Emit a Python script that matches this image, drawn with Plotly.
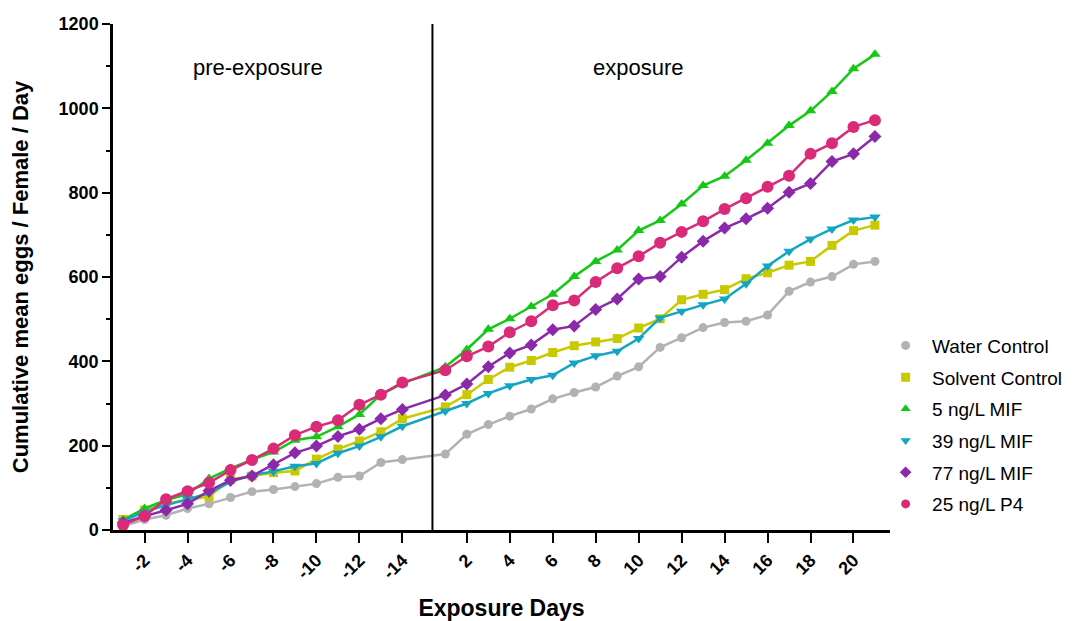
import plotly.graph_objects as go

# Day labels: pre-exposure days -1..-14, exposure days 1..21
pre_days = [-1, -2, -3, -4, -5, -6, -7, -8, -9, -10, -11, -12, -13, -14]
exp_days = list(range(1, 22))

water_pre = [9, 25, 35, 51, 62, 77, 91, 96, 103, 110, 125, 128, 160, 167]
water_exp = [180, 227, 250, 270, 287, 311, 326, 339, 365, 387, 433, 456, 480, 492, 495, 510, 566, 588, 601, 630, 637]
solvent_pre = [25, 47, 63, 71, 79, 120, 128, 136, 140, 168, 192, 211, 233, 264]
solvent_exp = [292, 321, 357, 386, 402, 421, 437, 446, 454, 479, 501, 546, 559, 570, 596, 610, 628, 637, 675, 710, 723]
mif5_pre = [24, 51, 71, 85, 122, 146, 167, 185, 213, 221, 245, 274, 321, 347]
mif5_exp = [387, 428, 476, 501, 530, 559, 601, 637, 664, 710, 734, 773, 817, 839, 877, 917, 959, 994, 1040, 1094, 1128]
mif39_pre = [22, 43, 59, 73, 87, 114, 130, 139, 151, 158, 182, 199, 221, 246]
mif39_exp = [282, 300, 324, 342, 357, 367, 396, 413, 424, 454, 503, 519, 534, 548, 584, 626, 661, 690, 714, 735, 742]
mif77_pre = [17, 33, 47, 62, 93, 118, 128, 155, 183, 199, 222, 239, 264, 286]
mif77_exp = [320, 346, 387, 420, 439, 475, 484, 523, 548, 595, 601, 647, 685, 716, 738, 763, 801, 822, 874, 892, 933]
p4_pre = [12, 33, 73, 92, 112, 142, 166, 193, 225, 245, 260, 297, 321, 350]
p4_exp = [379, 412, 435, 469, 495, 533, 544, 588, 621, 649, 681, 707, 732, 761, 787, 814, 840, 892, 917, 956, 972]

series_names = ["Water Control", "Solvent Control", "5 ng/L MIF", "39 ng/L MIF", "77 ng/L MIF", "25 ng/L P4"]
series_pre = [water_pre, solvent_pre, mif5_pre, mif39_pre, mif77_pre, p4_pre]
series_exp = [water_exp, solvent_exp, mif5_exp, mif39_exp, mif77_exp, p4_exp]
colors = ["#b2b2b5", "#c9c900", "#14c814", "#12a6c4", "#8a2aaa", "#d92b78"]
symbols = ["circle", "square", "triangle-up", "triangle-down", "diamond", "circle"]
sizes = [9, 9, 10, 10, 10, 12]

pre_tick_labels = ["-2", "-4", "-6", "-8", "-10", "-12", "-14"]
exp_tick_labels = ["2", "4", "6", "8", "10", "12", "14", "16", "18", "20"]


# Axis position: pre day -k at position k-1; exposure day k at position 14+k
def pos_pre(d):
    return -d - 1


def pos_exp(d):
    return 14 + d


x_all = [pos_pre(d) for d in pre_days] + [pos_exp(d) for d in exp_days]
tickvals = [pos_pre(int(t)) for t in pre_tick_labels] + [pos_exp(int(t)) for t in exp_tick_labels]
ticktext = pre_tick_labels + exp_tick_labels

FONT = "Arial, Liberation Sans, sans-serif"

fig = go.Figure()
for name, pre, exp, c, s, sz in zip(series_names, series_pre, series_exp, colors, symbols, sizes):
    fig.add_trace(go.Scatter(
        x=x_all, y=pre + exp, mode="lines+markers", name=name, showlegend=False,
        line=dict(color=c, width=2.5),
        marker=dict(color=c, symbol=s, size=sz),
    ))
# legend entries (markers only), each in its own group so the group gap spaces the rows
for name, c, s in zip(series_names, colors, symbols):
    fig.add_trace(go.Scatter(
        x=[None], y=[None], mode="markers", name=name, legendgroup=name,
        marker=dict(color=c, symbol=s, size=9),
    ))

fig.add_shape(type="line", xref="x", yref="y", x0=14.4, x1=14.4, y0=0, y1=1200,
              line=dict(color="black", width=2))

fig.add_annotation(x=6.3, y=1097, xref="x", yref="y", text="pre-exposure", showarrow=False,
                   font=dict(family=FONT, size=22, color="black"))
fig.add_annotation(x=24.0, y=1097, xref="x", yref="y", text="exposure", showarrow=False,
                   font=dict(family=FONT, size=22, color="black"))

# The page body adds an 8px offset; the figure is sized/margined to compensate
# (the figure may extend past the window edge where nothing is drawn).
fig.update_layout(
    width=1085, height=613,
    margin=dict(l=105, r=203, t=16, b=91),
    plot_bgcolor="white", paper_bgcolor="white",
    font=dict(family=FONT, color="black"),
    legend=dict(x=0.986, xanchor="left", y=0.402, yanchor="top", itemwidth=43,
                font=dict(family=FONT, size=19, color="black"),
                bgcolor="rgba(0,0,0,0)", tracegroupgap=4),
    xaxis=dict(range=[-0.47, 35.7], showgrid=False, zeroline=False, automargin=False,
               showline=True, linecolor="black", linewidth=2.5,
               tickmode="array", tickvals=tickvals, ticktext=ticktext,
               ticks="outside", ticklen=10, tickwidth=2, tickcolor="black",
               tickangle=-45, tickfont=dict(family=FONT, size=18, color="black", weight="bold"),
               title=dict(text="<b>Exposure Days</b>", font=dict(family=FONT, size=23), standoff=22)),
    yaxis=dict(range=[0, 1200], showgrid=False, zeroline=False, automargin=False,
               showline=True, linecolor="black", linewidth=2.5,
               tickmode="array", tickvals=[0, 200, 400, 600, 800, 1000, 1200],
               ticks="outside", ticklen=8, tickwidth=2, tickcolor="black",
               tickfont=dict(family=FONT, size=18, color="black", weight="bold"),
               minor=dict(tickvals=[100, 300, 500, 700, 900, 1100], ticks="outside", ticklen=4,
                          tickwidth=2, tickcolor="black"),
               title=dict(text="<b>Cumulative mean eggs / Female / Day</b>", font=dict(family=FONT, size=22), standoff=26)),
)

fig.write_html("out.html")
